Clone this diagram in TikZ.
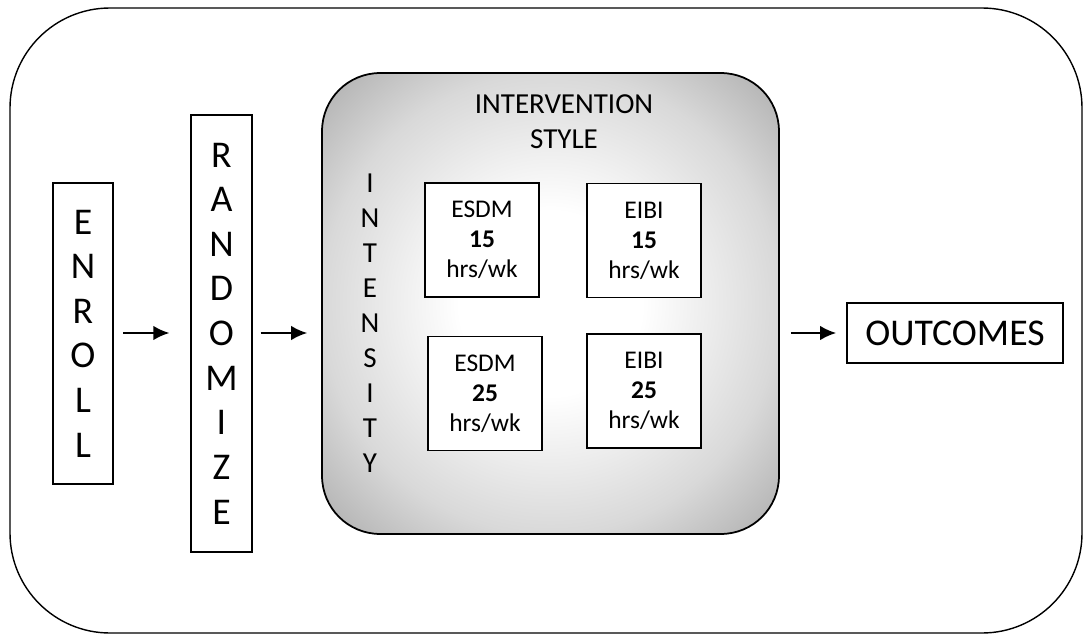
\documentclass[tikz,border=0pt]{standalone}
\usepackage{fontspec}
\setmainfont{Carlito}
\usetikzlibrary{arrows.meta,positioning}
\pgfdeclareradialshading{glow}{\pgfpoint{0bp}{0bp}}{color(0bp)=(white); color(10bp)=(white); color(25bp)=(black!15); color(34bp)=(black!30); color(50bp)=(black!30)}
\tikzset{
	tall/.style = {shape=rectangle, draw=black, line width=1pt, fill=white, inner sep=0pt, align=center, minimum width=1.21cm, font=\fontsize{21.5}{25.4}\selectfont},
	cell/.style = {shape=rectangle, draw=black, line width=1pt, fill=white, inner sep=0pt, align=center, minimum width=2.28cm, minimum height=2.28cm, font=\fontsize{14.5}{17}\selectfont},
	glowbox/.style = {shape=rectangle, draw=black, line width=1pt, shading=glow, rounded corners=1.16cm, minimum width=9.14cm, minimum height=9.22cm}
}
\begin{document}
\begin{tikzpicture}[
    x=0.02cm, y=-0.02cm,
    edge_style/.style={
        draw=black,
        line width=1.1pt,
        -{Latex[length=3.2mm,width=2.9mm]}
        },
    title_style/.style={
        align=center,
        font=\fontsize{16.5}{19.9}\selectfont
        }]

    \useasboundingbox (0,0) rectangle (1085,635);
    \draw[line width=0.8pt, rounded corners=2cm] (10,8) rectangle (1082,633);

    \node[tall, minimum height=6.02cm](enroll) at (83,333.5) {E\\N\\R\\O\\L\\L};
    \node[tall, minimum height=8.74cm](random) at (221.5,333.5) {R\\A\\N\\D\\O\\M\\I\\Z\\E};
    \node[glowbox](style) at (550.5,303.5) {};
    \node[title_style](stylelabel) at (564,122) {INTERVENTION\\STYLE};
    \node[title_style](intensity) at (370,323.5) {I\\N\\T\\E\\N\\S\\I\\T\\Y};

    \node[cell](e15) at (482,240) {ESDM\\\textbf{15}\\hrs/wk};
    \node[cell](b15) at (644,240.5) {EIBI\\\textbf{15}\\hrs/wk};
    \node[cell](e25) at (485,393.5) {ESDM\\\textbf{25}\\hrs/wk};
    \node[cell](b25) at (644,391) {EIBI\\\textbf{25}\\hrs/wk};

    \node[draw=black, line width=1pt, minimum width=4.32cm, minimum height=1.2cm, inner sep=0pt, font=\fontsize{21.5}{24}\selectfont](outcomes) at (955,333) {OUTCOMES};

    \draw[edge_style, shorten <=0.18cm, shorten >=0.42cm] (enroll.east |- outcomes) -- (random.west |- outcomes);
    \draw[edge_style, shorten <=0.16cm, shorten >=0.28cm] (random.east |- outcomes) -- (style.west |- outcomes);
    \draw[edge_style, shorten <=0.22cm, shorten >=0.2cm] (style.east |- outcomes) -- (outcomes.west);
\end{tikzpicture}
\end{document}
